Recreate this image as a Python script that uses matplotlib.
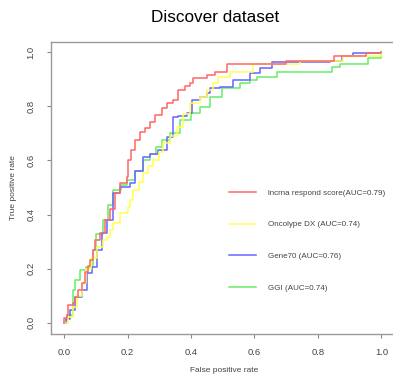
import matplotlib
matplotlib.use('Agg')

import matplotlib.pyplot as plt

# ROC knots (false positive rate, true positive rate)
red_fpr = [0.0, 0.0, 0.008, 0.013, 0.028, 0.035, 0.045, 0.057, 0.066, 0.075, 0.082, 0.09, 0.098, 0.113, 0.13, 0.145, 0.16, 0.176, 0.198, 0.2, 0.21, 0.224, 0.239, 0.255, 0.27, 0.287, 0.308, 0.325, 0.343, 0.36, 0.38, 0.397, 0.406, 0.45, 0.476, 0.513, 0.6, 0.7, 0.85, 0.95, 1.0]
red_tpr = [0.0, 0.018, 0.03, 0.066, 0.074, 0.096, 0.12, 0.148, 0.188, 0.21, 0.232, 0.27, 0.306, 0.332, 0.38, 0.42, 0.48, 0.517, 0.54, 0.6, 0.64, 0.675, 0.705, 0.72, 0.74, 0.768, 0.793, 0.81, 0.823, 0.86, 0.875, 0.886, 0.904, 0.915, 0.926, 0.956, 0.956, 0.967, 0.985, 0.996, 1.0]

yellow_fpr = [0.0, 0.012, 0.028, 0.04, 0.057, 0.07, 0.085, 0.104, 0.123, 0.135, 0.145, 0.155, 0.176, 0.2, 0.208, 0.218, 0.235, 0.25, 0.265, 0.28, 0.3, 0.312, 0.335, 0.356, 0.375, 0.397, 0.428, 0.45, 0.47, 0.485, 0.523, 0.595, 0.69, 0.743, 0.88, 0.995, 1.0]
yellow_tpr = [0.0, 0.022, 0.059, 0.1, 0.148, 0.2, 0.24, 0.28, 0.306, 0.317, 0.343, 0.369, 0.406, 0.428, 0.454, 0.49, 0.52, 0.553, 0.58, 0.6, 0.63, 0.664, 0.69, 0.723, 0.77, 0.81, 0.834, 0.86, 0.886, 0.908, 0.926, 0.956, 0.956, 0.967, 0.985, 0.985, 1.0]

blue_fpr = [0.0, 0.005, 0.019, 0.035, 0.057, 0.072, 0.088, 0.104, 0.12, 0.135, 0.155, 0.175, 0.208, 0.225, 0.25, 0.27, 0.296, 0.324, 0.343, 0.36, 0.387, 0.403, 0.428, 0.45, 0.46, 0.49, 0.532, 0.586, 0.617, 0.655, 0.838, 0.876, 0.91, 0.964, 1.0]
blue_tpr = [0.0, 0.015, 0.048, 0.096, 0.122, 0.184, 0.207, 0.27, 0.332, 0.38, 0.48, 0.5, 0.517, 0.56, 0.613, 0.625, 0.638, 0.686, 0.76, 0.765, 0.775, 0.823, 0.835, 0.849, 0.867, 0.871, 0.897, 0.922, 0.94, 0.963, 0.967, 0.985, 0.996, 0.996, 1.0]

green_fpr = [0.0, 0.01, 0.028, 0.035, 0.05, 0.07, 0.09, 0.1, 0.123, 0.14, 0.155, 0.18, 0.198, 0.225, 0.25, 0.27, 0.29, 0.31, 0.334, 0.365, 0.4, 0.428, 0.46, 0.497, 0.554, 0.586, 0.608, 0.67, 0.838, 0.844, 0.869, 0.953, 0.957, 1.0]
green_tpr = [0.0, 0.03, 0.122, 0.159, 0.196, 0.207, 0.27, 0.33, 0.38, 0.435, 0.49, 0.51, 0.527, 0.56, 0.6, 0.625, 0.65, 0.675, 0.7, 0.749, 0.775, 0.797, 0.834, 0.867, 0.886, 0.897, 0.908, 0.926, 0.926, 0.945, 0.956, 0.956, 0.978, 0.996]

labels = ['lncrna respond score(AUC=0.79)', 'Oncolype DX (AUC=0.74)',
          'Gene70 (AUC=0.76)', 'GGI (AUC=0.74)']
colors = ['#ff6666', '#ffff55', '#6666ff', '#66ee66']

plt.rcParams['font.family'] = ['Liberation Sans', 'DejaVu Sans']

fig = plt.figure(figsize=(3.93, 3.75), dpi=100)
ax = fig.add_axes([51 / 393, 41 / 375, 346 / 393, 292 / 375])

curves = [(red_fpr, red_tpr), (yellow_fpr, yellow_tpr),
          (blue_fpr, blue_tpr), (green_fpr, green_tpr)]
# draw green first so red stays on top like the original
for (fx, ty), c, lab in list(zip(curves, colors, labels))[::-1]:
    ax.plot(fx, ty, drawstyle='steps-post', color=c, lw=1.1, label=lab)

ax.set_xlim(-0.041, 1.049)
ax.set_ylim(-0.041, 1.037)
ax.set_xticks([0.0, 0.2, 0.4, 0.6, 0.8, 1.0])
ax.set_yticks([0.0, 0.2, 0.4, 0.6, 0.8, 1.0])
ax.set_xticklabels(['0.0', '0.2', '0.4', '0.6', '0.8', '1.0'])
ax.set_yticklabels(['0.0', '0.2', '0.4', '0.6', '0.8', '1.0'], rotation=90, va='center')
ax.tick_params(labelsize=6.8, colors='#888888', labelcolor='#444444', length=3, width=0.8)
ax.tick_params(axis='y', pad=8)
ax.tick_params(axis='x', pad=7)
for s in ax.spines.values():
    s.set_color('#999999')
    s.set_linewidth(1.0)

ax.set_xlabel('False positive rate', fontsize=6, color='#444444', labelpad=7)
ax.set_ylabel('True positive rate', fontsize=6, color='#444444', labelpad=7)

handles, labs = ax.get_legend_handles_labels()
leg = ax.legend(handles[::-1], labs[::-1], loc='upper left',
                bbox_to_anchor=(0.505, 0.508), frameon=False, fontsize=5.8,
                labelspacing=3.0, handlelength=3.3, handletextpad=1.5,
                borderaxespad=0)
for t in leg.get_texts():
    t.set_color('#444444')

fig.text(215 / 393, 1 - 18 / 375, 'Discover dataset', ha='center', va='center', fontsize=12.3)

plt.savefig('out.png', dpi=100)
